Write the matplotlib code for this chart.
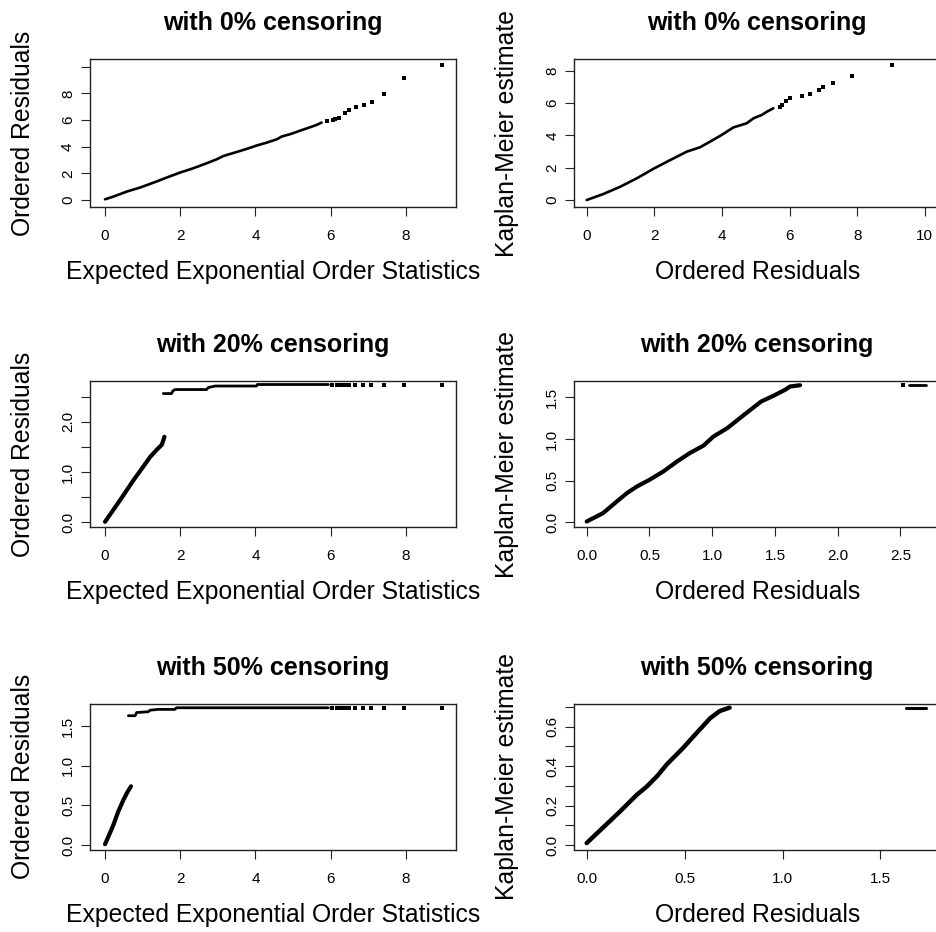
import matplotlib
matplotlib.use("Agg")
import matplotlib.pyplot as plt

plt.rcParams["font.family"] = ["Liberation Sans", "DejaVu Sans"]

W, H = 937, 932

# ---------------- 0% censoring ----------------
# ordered residuals against expected exponential order statistics
c0_qq_x = [0.0, 0.22, 0.58, 0.93, 1.29, 1.64, 1.99, 2.35, 2.70, 2.97, 3.15, 3.41,
           3.77, 4.03, 4.30, 4.57, 4.70, 4.92, 5.19, 5.45, 5.62, 5.76]
c0_qq_y = [0.05, 0.25, 0.63, 0.93, 1.30, 1.68, 2.05, 2.38, 2.75, 3.05, 3.30, 3.52,
           3.83, 4.08, 4.30, 4.55, 4.76, 4.93, 5.20, 5.45, 5.62, 5.80]
c0_qq_tail_x = [5.90, 6.06, 6.12, 6.23, 6.37, 6.50, 6.67, 6.88, 7.09, 7.43, 7.94, 8.96]
c0_qq_tail_y = [5.93, 6.02, 6.05, 6.17, 6.53, 6.77, 6.98, 7.13, 7.37, 7.95, 9.17, 10.13]

# Kaplan-Meier estimate against ordered residuals
c0_km_x = [0.0, 0.49, 0.99, 1.48, 2.0, 2.47, 2.96, 3.35, 3.65, 3.99, 4.34, 4.73,
           4.93, 5.18, 5.33, 5.52]
c0_km_y = [0.0, 0.37, 0.82, 1.34, 1.96, 2.47, 2.99, 3.26, 3.61, 4.02, 4.49, 4.74,
           5.05, 5.26, 5.46, 5.67]
c0_km_tail_x = [5.72, 5.77, 5.90, 6.01, 6.38, 6.59, 6.87, 7.00, 7.29, 7.86, 9.04]
c0_km_tail_y = [5.77, 5.88, 6.12, 6.29, 6.45, 6.56, 6.78, 6.97, 7.25, 7.65, 8.35]

# ---------------- 20% censoring ----------------
c20_qq_x = [0.0, 0.13, 0.40, 0.75, 1.02, 1.20, 1.37, 1.51, 1.58]
c20_qq_y = [0.01, 0.15, 0.44, 0.83, 1.11, 1.30, 1.44, 1.54, 1.70]
c20_qq_cens_x = [1.55, 1.77, 1.80, 1.86, 2.70, 2.75, 2.93, 4.03, 4.05, 5.94]
c20_qq_cens_y = [2.56, 2.56, 2.61, 2.64, 2.64, 2.68, 2.71, 2.71, 2.74, 2.74]
c20_qq_tail_x = [6.03, 6.16, 6.28, 6.38, 6.50, 6.65, 6.87, 7.07, 7.43, 7.95, 8.96]
c20_qq_tail_y = [2.73, 2.73, 2.73, 2.73, 2.73, 2.73, 2.73, 2.73, 2.73, 2.73, 2.73]

c20_km_x = [0.0, 0.13, 0.24, 0.32, 0.40, 0.50, 0.61, 0.72, 0.82, 0.93, 1.01, 1.12,
            1.22, 1.33, 1.39, 1.49, 1.58, 1.62, 1.70]
c20_km_y = [0.01, 0.11, 0.25, 0.35, 0.43, 0.51, 0.61, 0.73, 0.83, 0.92, 1.03, 1.13,
            1.25, 1.38, 1.45, 1.52, 1.59, 1.63, 1.645]
c20_km_tail_x = [2.52, 2.57, 2.60, 2.63, 2.66, 2.70]
c20_km_tail_y = [1.645, 1.645, 1.645, 1.645, 1.645, 1.645]

# ---------------- 50% censoring ----------------
c50_qq_x = [0.0, 0.11, 0.22, 0.35, 0.49, 0.60, 0.69]
c50_qq_y = [0.01, 0.13, 0.25, 0.42, 0.57, 0.67, 0.74]
c50_qq_cens_x = [0.62, 0.80, 0.84, 1.15, 1.20, 1.42, 1.86, 1.90, 5.94]
c50_qq_cens_y = [1.63, 1.63, 1.67, 1.68, 1.70, 1.71, 1.71, 1.73, 1.73]
c50_qq_tail_x = [6.03, 6.16, 6.28, 6.38, 6.50, 6.65, 6.87, 7.07, 7.43, 7.95, 8.96]
c50_qq_tail_y = [1.73, 1.73, 1.73, 1.73, 1.73, 1.73, 1.73, 1.73, 1.73, 1.73, 1.73]

c50_km_x = [0.0, 0.085, 0.17, 0.255, 0.306, 0.36, 0.41, 0.44, 0.49, 0.56, 0.60,
            0.63, 0.68, 0.73]
c50_km_y = [0.01, 0.09, 0.17, 0.254, 0.296, 0.35, 0.41, 0.44, 0.49, 0.567, 0.61,
            0.643, 0.68, 0.697]
c50_km_tail_x = [1.63, 1.66, 1.70, 1.73]
c50_km_tail_y = [0.695, 0.695, 0.695, 0.695]

TITLES = ["with 0% censoring", "with 20% censoring", "with 50% censoring"]
QQ_XLABEL = "Expected Exponential Order Statistics"
QQ_YLABEL = "Ordered Residuals"
KM_XLABEL = "Ordered Residuals"
KM_YLABEL = "Kaplan-Meier estimate"

fig = plt.figure(figsize=(W / 100, H / 100), dpi=100)


def add_panel(left, top, right, bottom):
    ax = fig.add_axes([left / W, 1 - bottom / H, (right - left) / W, (bottom - top) / H])
    ax._px = (right - left, bottom - top)
    return ax


def style(ax, xlim, ylim, xticks, xlabels, yticks, ylabels, title, xlabel, ylabel):
    w, h = ax._px
    ax.set_xlim(*xlim)
    ax.set_ylim(*ylim)
    ax.set_xticks(xticks, xlabels)
    ax.set_yticks(yticks, ylabels)
    for s in ax.spines.values():
        s.set_linewidth(1.0)
        s.set_color("#222222")
    ax.tick_params(axis="both", length=6.8, width=0.8, color="#222222", labelsize=11)
    ax.tick_params(axis="x", pad=9.0)
    ax.tick_params(axis="y", pad=4.0, labelrotation=90)
    for lab in ax.get_yticklabels():
        lab.set_va("center")
    ax.text(0.5, 1 + 36 / h, title, transform=ax.transAxes, ha="center", va="center",
            fontsize=18, fontweight="bold")
    ax.set_xlabel(xlabel, fontsize=17.8, va="center")
    ax.xaxis.set_label_coords(0.5, -65 / h)
    ax.set_ylabel(ylabel, fontsize=17.8, va="center")
    ax.yaxis.set_label_coords(-67 / w, 0.5)


def dense(ax, x, y, lw):
    ax.plot(x, y, color="black", lw=lw, solid_capstyle="round", solid_joinstyle="round")


def dots(ax, x, y):
    ax.plot(x, y, ls="none", marker="s", ms=2.3, color="black", mew=0)


LEFT = (90, 456)
RIGHT = (574.3, 940)
ROWS = [(59.3, 207.3), (381, 527.3), (703.5, 850)]

qq_xticks = [0, 2, 4, 6, 8]
qq_xlabels = ["0", "2", "4", "6", "8"]

# row 1
ax = add_panel(LEFT[0], ROWS[0][0], LEFT[1], ROWS[0][1])
dense(ax, c0_qq_x, c0_qq_y, 1.9)
dots(ax, c0_qq_tail_x, c0_qq_tail_y)
style(ax, (-0.40, 9.335), (-0.55, 10.55), qq_xticks, qq_xlabels,
      [0, 2, 4, 6, 8, 10], ["0", "2", "4", "6", "8", ""], TITLES[0], QQ_XLABEL, QQ_YLABEL)

ax = add_panel(RIGHT[0], ROWS[0][0], RIGHT[1], ROWS[0][1])
dense(ax, c0_km_x, c0_km_y, 1.9)
dots(ax, c0_km_tail_x, c0_km_tail_y)
style(ax, (-0.367, 10.45), (-0.45, 8.70), [0, 2, 4, 6, 8, 10],
      ["0", "2", "4", "6", "8", "10"], [0, 2, 4, 6, 8], ["0", "2", "4", "6", "8"],
      TITLES[0], KM_XLABEL, KM_YLABEL)

# row 2
ax = add_panel(LEFT[0], ROWS[1][0], LEFT[1], ROWS[1][1])
dense(ax, c20_qq_x, c20_qq_y, 3.0)
dense(ax, c20_qq_cens_x, c20_qq_cens_y, 2.0)
dots(ax, c20_qq_tail_x, c20_qq_tail_y)
style(ax, (-0.40, 9.335), (-0.10, 2.81), qq_xticks, qq_xlabels,
      [0, 0.5, 1.0, 1.5, 2.0, 2.5], ["0.0", "", "1.0", "", "2.0", ""],
      TITLES[1], QQ_XLABEL, QQ_YLABEL)

ax = add_panel(RIGHT[0], ROWS[1][0], RIGHT[1], ROWS[1][1])
dense(ax, c20_km_x, c20_km_y, 3.0)
dots(ax, c20_km_tail_x[:1], c20_km_tail_y[:1])
dense(ax, c20_km_tail_x[1:], c20_km_tail_y[1:], 2.0)
style(ax, (-0.099, 2.815), (-0.06, 1.696), [0, 0.5, 1.0, 1.5, 2.0, 2.5],
      ["0.0", "0.5", "1.0", "1.5", "2.0", "2.5"], [0, 0.5, 1.0, 1.5],
      ["0.0", "0.5", "1.0", "1.5"], TITLES[1], KM_XLABEL, KM_YLABEL)

# row 3
ax = add_panel(LEFT[0], ROWS[2][0], LEFT[1], ROWS[2][1])
dense(ax, c50_qq_x, c50_qq_y, 3.0)
dense(ax, c50_qq_cens_x, c50_qq_cens_y, 2.0)
dots(ax, c50_qq_tail_x, c50_qq_tail_y)
style(ax, (-0.40, 9.335), (-0.063, 1.784), qq_xticks, qq_xlabels,
      [0, 0.5, 1.0, 1.5], ["0.0", "0.5", "1.0", "1.5"],
      TITLES[2], QQ_XLABEL, QQ_YLABEL)

ax = add_panel(RIGHT[0], ROWS[2][0], RIGHT[1], ROWS[2][1])
dense(ax, c50_km_x, c50_km_y, 3.2)
dense(ax, c50_km_tail_x, c50_km_tail_y, 2.2)
style(ax, (-0.063, 1.804), (-0.025, 0.718), [0, 0.5, 1.0, 1.5],
      ["0.0", "0.5", "1.0", "1.5"], [0, 0.1, 0.2, 0.3, 0.4, 0.5, 0.6, 0.7],
      ["0.0", "", "0.2", "", "0.4", "", "0.6", ""], TITLES[2], KM_XLABEL, KM_YLABEL)

fig.savefig("out.png", dpi=100)
